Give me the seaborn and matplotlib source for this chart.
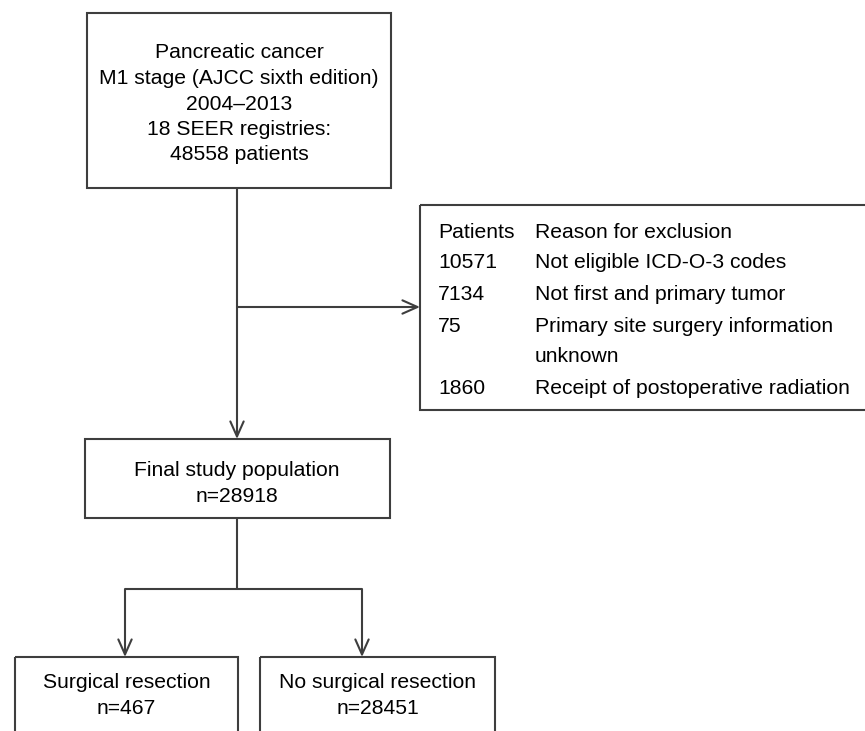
import matplotlib.pyplot as plt
import seaborn as sns
from matplotlib.patches import Rectangle

# flowchart content
source_lines = ['Pancreatic cancer', 'M1 stage (AJCC sixth edition)', '2004\u20132013',
                '18 SEER registries:', '48558 patients']
exclusion_header = ['Patients', 'Reason for exclusion']
excluded_counts = ['10571', '7134', '75', '', '1860']
excluded_reasons = ['Not eligible ICD-O-3 codes', 'Not first and primary tumor',
                    'Primary site surgery information', 'unknown', 'Receipt of postoperative radiation']
final_lines = ['Final study population', 'n=28918']
group_labels = ['Surgical resection', 'No surgical resection']
group_counts = [467, 28451]

sns.set_theme(style='white')
plt.rcParams['font.family'] = ['Liberation Sans', 'DejaVu Sans']

LINE = '#3e3e3e'
FS = 15.2
LW = 1.5

fig = plt.figure(figsize=(8.65, 7.31), dpi=100)
ax = fig.add_axes([0, 0, 1, 1])
ax.set_xlim(0, 865)
ax.set_ylim(731, 0)
ax.axis('off')


def box(x0, y0, x1, y1):
    ax.add_patch(Rectangle((x0, y0), x1 - x0, y1 - y0, fill=False, edgecolor=LINE, lw=LW))


def arrow(x0, y0, x1, y1):
    ax.annotate('', xy=(x1, y1), xytext=(x0, y0),
                arrowprops=dict(arrowstyle='->,head_length=0.9,head_width=0.4', color=LINE, lw=LW,
                                shrinkA=0, shrinkB=0))


def line(xs, ys):
    ax.plot(xs, ys, color=LINE, lw=LW, solid_capstyle='butt')


# top box
box(87, 13, 391, 188)
for i, t in enumerate(source_lines):
    ax.text(239, 53 + i * 25.5, t, ha='center', va='center', fontsize=FS, color='black')

# trunk to final box and branch to exclusions
line([237, 237], [188, 300])
arrow(237, 307, 420, 307)
arrow(237, 300, 237, 439)

# exclusion box (right edge runs off the figure)
box(420, 205, 868, 410)
col_x = [438, 535]
ax.text(col_x[0], 232, exclusion_header[0], ha='left', va='center', fontsize=FS, color='black')
ax.text(col_x[1], 232, exclusion_header[1], ha='left', va='center', fontsize=FS, color='black')
row_y = [263, 295, 327, 357, 388]
for y, c, r in zip(row_y, excluded_counts, excluded_reasons):
    ax.text(col_x[0], y, c, ha='left', va='center', fontsize=FS, color='black')
    ax.text(col_x[1], y, r, ha='left', va='center', fontsize=FS, color='black')

# final population box
box(85, 439, 390, 518)
ax.text(237, 471, final_lines[0], ha='center', va='center', fontsize=FS, color='black')
ax.text(237, 497, final_lines[1], ha='center', va='center', fontsize=FS, color='black')

# split into two groups
line([237, 237], [518, 589])
line([125, 362], [589, 589])
arrow(125, 589, 125, 657)
arrow(362, 589, 362, 657)

group_boxes = [(15, 238), (260, 495)]
for (x0, x1), lab, n in zip(group_boxes, group_labels, group_counts):
    box(x0, 657, x1, 740)
    cx = (x0 + x1) / 2
    ax.text(cx, 682, lab, ha='center', va='center', fontsize=FS, color='black')
    ax.text(cx, 708, f'n={n}', ha='center', va='center', fontsize=FS, color='black')

fig.savefig('out.png', dpi=100)
